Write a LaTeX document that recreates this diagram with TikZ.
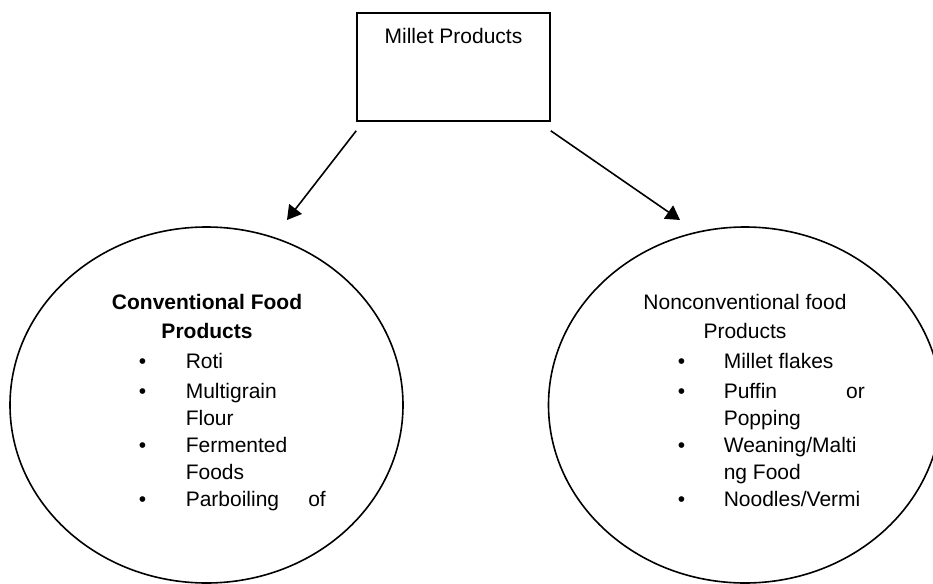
\documentclass[tikz,border=0pt]{standalone}
\usepackage{fontspec}
\setmainfont{Liberation Sans}
\usepackage{array}
\usetikzlibrary{arrows.meta,shapes.geometric}

\newcommand{\itm}{\textbullet}
\newcommand{\spread}[2]{\leavevmode\hbox to \linewidth{#1\hfill #2}}

\begin{document}
\begin{tikzpicture}[x=0.5pt, y=-0.5pt, >={Triangle[length=7pt,width=8pt]}, line width=0.8pt,
    box/.style={draw, rectangle, minimum width=96.5pt, minimum height=54pt},
    oval/.style={draw, ellipse, minimum width=196.5pt, minimum height=178pt},
    txt/.style={font=\fontsize{10.5}{13.5}\selectfont, inner sep=0pt}]
    \useasboundingbox (0,0) rectangle (933,584);

    % Nodes {prod, conv, nonconv}
    \node [box]                 (prod)      at (453.5,67)   {};
    \node [txt, anchor=base]    (prodtxt)   at (453.5,43)   {Millet Products};
    \node [oval]                (conv)      at (206.5,405)  {};
    \node [oval]                (nonconv)   at (745,405)    {};

    % Texts inside the ovals
    \node [txt, anchor=base]    (convhead)  at (207,309)
        {\begin{tabular}[t]{@{}c@{}}\textbf{Conventional Food}\\[1pt]\textbf{Products}\end{tabular}};
    \node [txt, anchor=base west] (convlist) at (138,368)
        {\begin{tabular}[t]{@{}p{23.5pt}@{}p{70pt}@{}}
            \itm & Roti\\[1.5pt]
            \itm & Multigrain\newline Flour\\[1.5pt]
            \itm & Fermented\newline Foods\\[1.5pt]
            \itm & \spread{Parboiling}{of}
        \end{tabular}};
    \node [txt, anchor=base]    (nonchead)  at (745,309)
        {\begin{tabular}[t]{@{}c@{}}Nonconventional food\\[1pt]Products\end{tabular}};
    \node [txt, anchor=base west] (nonclist) at (677,368)
        {\begin{tabular}[t]{@{}p{23pt}@{}p{70.5pt}@{}}
            \itm & Millet flakes\\[1.5pt]
            \itm & \spread{Puffin}{or}\newline Popping\\[1.5pt]
            \itm & Weaning/Malti\newline ng Food\\[1.5pt]
            \itm & Noodles/Vermi
        \end{tabular}};

    % Arrow ends
    \coordinate (convtip)   at (287,220);
    \coordinate (nonctip)   at (680,220);

    % Paths
    \path [->]  ([yshift=-4.5pt]prod.south west) edge (convtip);
    \path [->]  ([yshift=-4.5pt]prod.south east) edge (nonctip);

\end{tikzpicture}
\end{document}
